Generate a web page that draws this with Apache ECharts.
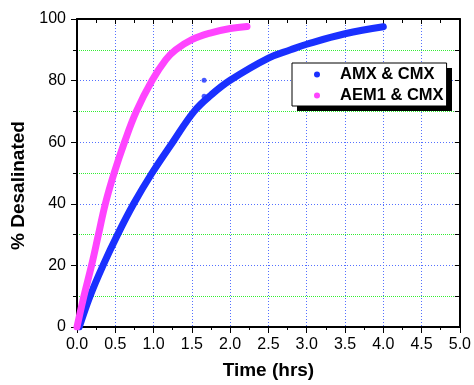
<!DOCTYPE html>
<html>
<head>
<meta charset="utf-8">
<script src="https://cdn.jsdelivr.net/npm/echarts@6/dist/echarts.min.js"></script>
<style>
  html, body { margin: 0; padding: 0; background: #fff; }
  #chart { width: 474px; height: 385px; }
</style>
</head>
<body>
<div id="chart"></div>
<script>
// values
const amxTime = [0.03, 0.17, 0.34, 0.53, 0.74, 0.98, 1.25, 1.53, 1.75, 2.0, 2.5, 2.79, 3.0, 3.5, 4.0];
const amxPct  = [0, 10, 20, 30, 40, 50, 60, 70, 75.3, 80.1, 87.3, 90, 91.8, 95.2, 97.5];
const aemTime = [0, 0.09, 0.19, 0.28, 0.37, 0.485, 0.62, 0.775, 0.98, 1.16, 1.29, 1.5, 1.75, 2.0, 2.22];
const aemPct  = [0, 10, 20, 30, 40, 50, 60, 70, 80, 86.8, 90, 93.3, 95.5, 96.9, 97.6];
const strayTime = [1.66, 1.66];
const strayPct  = [80.1, 74.9];
const seriesNames = ['AMX & CMX', 'AEM1 & CMX'];

const FONT = '"Liberation Sans", Arial, sans-serif';
const BLUE = '#1a30ff';
const MAGENTA = '#ff44ff';
const gridBlue  = '#5470ff';
const gridGreen = '#33ee33';

const zip = (xs, ys) => xs.map((x, i) => [x, ys[i]]);

const chart = echarts.init(document.getElementById('chart'), null, { renderer: 'canvas' });

const axisLine = { show: true, onZero: false, lineStyle: { color: '#000', width: 2 } };

chart.setOption({
  backgroundColor: '#fff',
  animation: false,
  grid: { left: 77, right: 12, top: 19, bottom: 56 },
  // drop shadow behind the legend box
  graphic: [{
    type: 'rect', left: 297, top: 68, z: 9, silent: true,
    shape: { width: 155, height: 43 },
    style: { fill: '#000' }
  }],
  legend: {
    orient: 'vertical',
    left: 292, top: 63, z: 10,
    data: seriesNames,
    icon: 'circle',
    itemWidth: 6, itemHeight: 6, itemGap: 4,
    padding: [3, 3, 2, 22],
    backgroundColor: '#fff',
    borderColor: '#000', borderWidth: 1, borderRadius: 0,
    textStyle: { fontFamily: FONT, fontSize: 16.5, fontWeight: 'bold', color: '#000', lineHeight: 17, padding: [0, 0, 0, 15] }
  },
  xAxis: [
    {
      type: 'value', min: 0, max: 5, interval: 0.5, position: 'bottom',
      name: 'Time (hrs)', nameLocation: 'middle', nameGap: 34,
      nameTextStyle: { fontFamily: FONT, fontSize: 19, fontWeight: 'bold', color: '#000' },
      axisLine,
      axisTick: { show: true, inside: false, length: 6, lineStyle: { color: '#000', width: 1 } },
      minorTick: { show: true, splitNumber: 2, length: 3, lineStyle: { color: '#000', width: 1 } },
      axisLabel: { fontFamily: FONT, fontSize: 16, color: '#000', margin: 10,
        formatter: (v) => v.toFixed(1) },
      splitLine: { show: true, lineStyle: { color: gridBlue, type: [1, 2], width: 1 } }
    },
    {
      type: 'value', min: 0, max: 5, interval: 0.5, position: 'top',
      axisLine,
      axisTick: { show: true, inside: true, length: 5, lineStyle: { color: '#000', width: 1 } },
      minorTick: { show: true, splitNumber: 2, length: 4, lineStyle: { color: '#000', width: 1 } },
      axisLabel: { show: false },
      splitLine: { show: false }
    }
  ],
  yAxis: [
    {
      type: 'value', min: 0, max: 100, interval: 20, position: 'left',
      name: '% Desalinated', nameLocation: 'middle', nameGap: 48,
      nameTextStyle: { fontFamily: FONT, fontSize: 19, fontWeight: 'bold', color: '#000', padding: [0, 25, 0, 0] },
      axisLine,
      axisTick: { show: true, inside: false, length: 6, lineStyle: { color: '#000', width: 1 } },
      minorTick: { show: true, splitNumber: 2, length: 4, lineStyle: { color: '#000', width: 1 } },
      axisLabel: { fontFamily: FONT, fontSize: 16, color: '#000', margin: 11 },
      splitLine: { show: true, lineStyle: { color: gridBlue, type: [1, 2], width: 1 } },
      minorSplitLine: { show: true, lineStyle: { color: gridGreen, type: [1, 1], width: 1 } }
    },
    {
      type: 'value', min: 0, max: 100, interval: 20, position: 'right',
      axisLine,
      axisTick: { show: true, inside: true, length: 5, lineStyle: { color: '#000', width: 1 } },
      minorTick: { show: true, splitNumber: 2, length: 5, lineStyle: { color: '#000', width: 1 } },
      axisLabel: { show: false },
      splitLine: { show: false }
    }
  ],
  series: [
    {
      name: seriesNames[0], type: 'line', data: zip(amxTime, amxPct),
      smooth: 0.4, symbol: 'none',
      itemStyle: { color: BLUE },
      lineStyle: { color: BLUE, width: 7, cap: 'round' }
    },
    {
      name: seriesNames[1], type: 'line', data: zip(aemTime, aemPct),
      smooth: 0.4, symbol: 'none',
      itemStyle: { color: MAGENTA },
      lineStyle: { color: MAGENTA, width: 7, cap: 'round' }
    },
    {
      name: 'stray', type: 'scatter', data: zip(strayTime, strayPct),
      symbolSize: 5, itemStyle: { color: BLUE }
    }
  ]
});
</script>
</body>
</html>
